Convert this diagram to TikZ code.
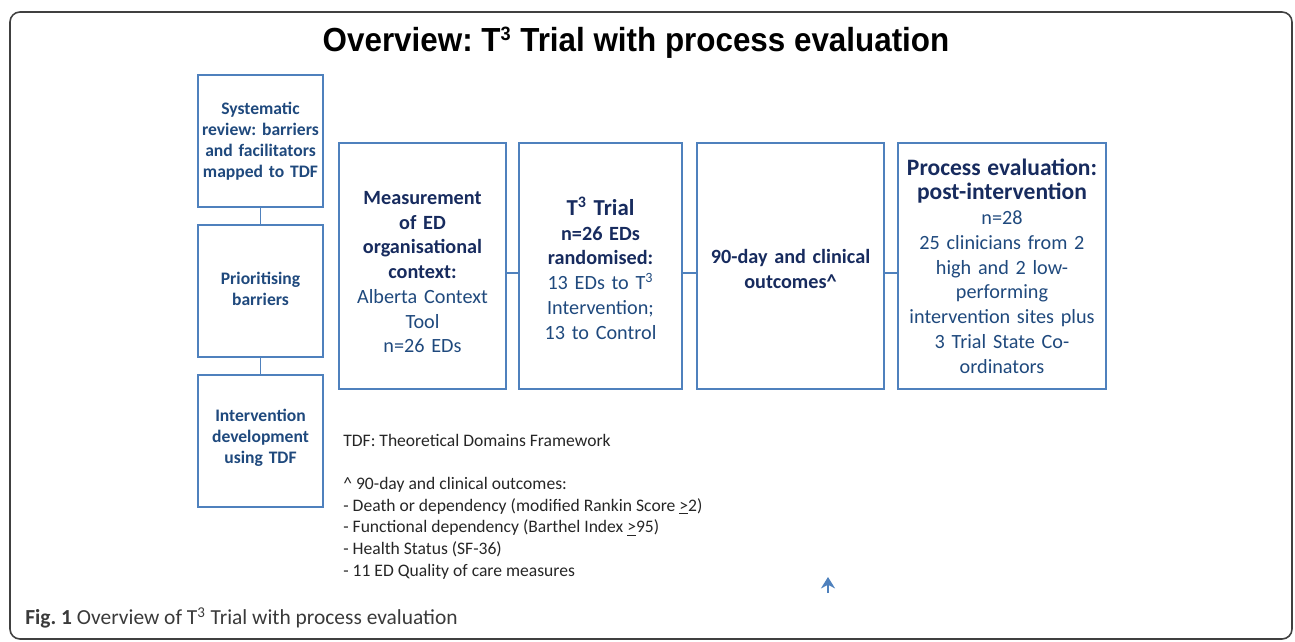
\documentclass[tikz,border=0pt]{standalone}
\usepackage{fontspec}
\setmainfont{Carlito}
\newfontfamily\titlefont[FakeStretch=0.94]{Liberation Sans}
\usetikzlibrary{positioning,calc,arrows.meta}
\definecolor{frameblue}{HTML}{4F81BD}
\definecolor{navyblue}{HTML}{172B5E}
\definecolor{textblue}{HTML}{1F497D}
\definecolor{leftblue}{HTML}{1F497D}
\definecolor{captiongray}{HTML}{3A3A3A}

\tikzset{
	stagebox/.style={draw=frameblue, line width=1.6pt, align=center, inner sep=2pt},
	leftbox/.style={stagebox, minimum width=2.5cm, minimum height=2.64cm, text width=2.36cm,
		font=\fontsize{10pt}{11.9pt}\selectfont\bfseries, text=leftblue},
	mainbox/.style={stagebox, minimum height=4.92cm,
		font=\fontsize{11.5pt}{14.1pt}\selectfont, text=textblue},
	link/.style={draw=frameblue, line width=1pt}
}
\frenchspacing

\begin{document}
\begin{tikzpicture}[x=0.02cm,y=-0.02cm]
		\useasboundingbox (0,0) rectangle (1295,642);
		\draw[rounded corners=0.2cm, line width=0.9pt, black!75] (10,12) rectangle (1292,639);
		
		\node[font=\titlefont\fontsize{19pt}{22pt}\selectfont\bfseries] (title) at (636,43) {Overview: T\textsuperscript{\fontsize{11pt}{11pt}\selectfont 3} Trial with process evaluation};
		
		%left column
		\node[leftbox] (review) at (260.5,141) {Systematic\\review: barriers\\and facilitators\\mapped to TDF};
		\node[leftbox] (prior) at (260.5,291) {Prioritising\\barriers\rule[-2.4pt]{0pt}{0pt}};
		\node[leftbox] (develop) at (260.5,441) {Intervention\\development\\using TDF\rule[-5pt]{0pt}{0pt}};
		
		\draw[link] (review) -- (prior);
		\draw[link] (prior) -- (develop);
		
		%main row
		\node[mainbox, minimum width=3.3cm, text width=3.2cm] (measure) at (422.5,266) {\rule{0pt}{14.5pt}\textbf{\color{navyblue}Measurement}\\\textbf{\color{navyblue}of ED}\\\textbf{\color{navyblue}organisational}\\\textbf{\color{navyblue}context:}\\Alberta Context\\Tool\\n=26 EDs};
		
		\node[mainbox, minimum width=3.26cm, text width=3.1cm] (trial) at (600.5,266) {\rule{0pt}{13pt}{\fontsize{13pt}{15pt}\selectfont\bfseries\color{navyblue}T\textsuperscript{3} Trial}\\\textbf{\color{navyblue}n=26 EDs}\\\textbf{\color{navyblue}randomised:}\\13 EDs to T\textsuperscript{3}\\Intervention;\\13 to Control};
		
		\node[mainbox, minimum width=3.74cm, text width=3.6cm, font=\fontsize{11.5pt}{14.1pt}\selectfont\bfseries, text=navyblue] (outcome) at (790.5,266) {\rule{0pt}{11.5pt}90-day and clinical\\outcomes\textasciicircum};
		
		\node[mainbox, minimum width=4.16cm, text width=3.95cm] (process) at (1002,266) {{\fontsize{13.4pt}{16.5pt}\selectfont\bfseries\color{navyblue}Process evaluation:\\post-intervention}\\n=28\\25 clinicians from 2\\high and 2 low-\\performing\\intervention sites plus\\3 Trial State Co-\\ordinators};
		
		\draw[link] ([yshift=-0.14cm]measure.east) -- ([yshift=-0.14cm]trial.west);
		\draw[link] ([yshift=-0.14cm]trial.east) -- ([yshift=-0.14cm]outcome.west);
		\draw[link] ([yshift=-0.14cm]outcome.east) -- ([yshift=-0.14cm]process.west);
		
		%notes
		\node[anchor=north west, align=left, inner sep=0pt, font=\fontsize{10pt}{12.3pt}\selectfont, text=black!85] (notes) at (343,434) {TDF: Theoretical Domains Framework\\[12.3pt]
			\textasciicircum{} 90-day and clinical outcomes:\\
			- Death or dependency (modified Rankin Score \underline{>}2)\\
			- Functional dependency (Barthel Index \underline{>}95)\\
			- Health Status (SF-36)\\
			- 11 ED Quality of care measures};
		
		\coordinate (arrow start) at (828,593);
		\coordinate (arrow end) at (828,577);
		\draw[frameblue, line width=1.4pt, -{Stealth[length=6.5pt,width=8pt]}] (arrow start) -- (arrow end);
		
		\node[anchor=west, inner sep=0pt, font=\fontsize{12.2pt}{14pt}\selectfont, text=captiongray] (caption) at (25,618) {\textbf{Fig. 1} Overview of T\textsuperscript{3} Trial with process evaluation};
		
\end{tikzpicture}
\end{document}
